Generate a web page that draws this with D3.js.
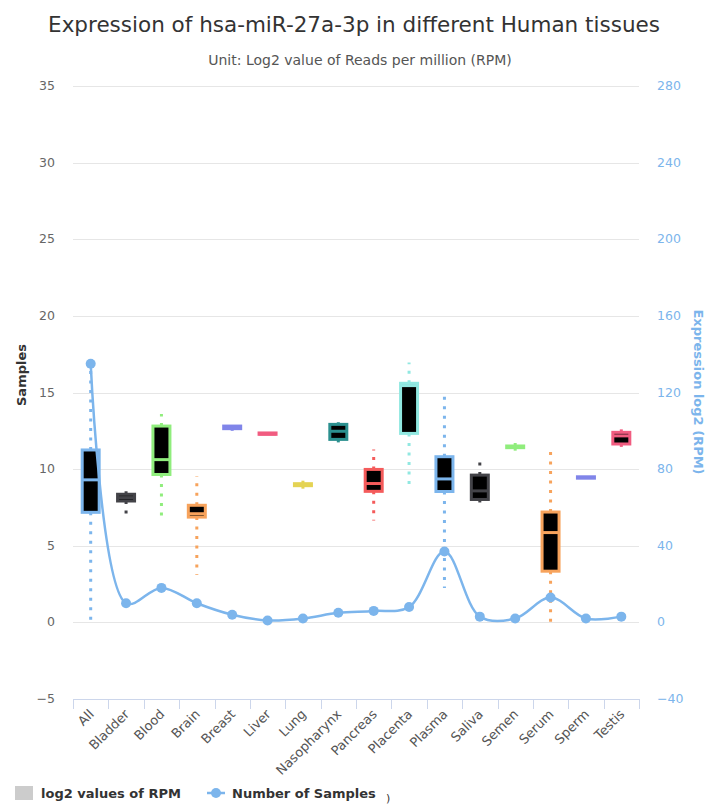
<!DOCTYPE html>
<html>
<head>
<meta charset="utf-8">
<script src="https://cdn.jsdelivr.net/npm/d3@7"></script>
<style>
  body { margin: 0; background: #fff; }
  text { font-family: "DejaVu Sans", Verdana, sans-serif; }
</style>
</head>
<body>
<svg id="chart"></svg>
<script>
var width = 707;
var height = 806;

// tissues, box stats (log2 RPM) and sample counts
var tissues = ["All", "Bladder", "Blood", "Brain", "Breast", "Liver", "Lung", "Nasopharynx",
  "Pancreas", "Placenta", "Plasma", "Saliva", "Semen", "Serum", "Sperm", "Testis"];
var lowValues = [0, 7.0, 6.6, 3.1, 12.5, 12.27, 8.67, 11.6, 6.64, 8.9, 2.24, 7.47, 11.1, 0.02, 9.41, 11.45];
var q1Values = [7.18, 7.92, 9.65, 6.87, 12.64, 12.27, 8.92, 11.94, 8.55, 12.33, 8.54, 8.02, 11.4, 3.34, 9.41, 11.64];
var medianValues = [9.3, 8.14, 10.62, 7.09, 12.7, 12.3, 9.0, 12.47, 9.06, 15.45, 9.36, 8.58, 11.45, 5.86, 9.45, 12.17];
var q3Values = [11.25, 8.36, 12.81, 7.64, 12.81, 12.36, 9.05, 12.92, 9.98, 15.6, 10.81, 9.61, 11.51, 7.2, 9.5, 12.4];
var highValues = [16.8, 8.77, 13.59, 9.54, 12.81, 12.36, 9.49, 13.06, 11.28, 16.96, 15.1, 10.65, 11.89, 11.5, 9.5, 12.8];
var sampleCounts = [135, 10, 18, 10, 4, 1, 2, 5, 6, 8, 37, 3, 2, 13, 2, 3];

var leftTicks = [-5, 0, 5, 10, 15, 20, 25, 30, 35];
var rightTicks = [-40, 0, 40, 80, 120, 160, 200, 240, 280];

var palette = ["#7cb5ec", "#434348", "#90ed7d", "#f7a35c", "#8085e9", "#f15c80",
  "#e4d354", "#2b908f", "#f45b5b", "#91e8e1"];

var boxes = tissues.map((t, i) => ({
  name: t, low: lowValues[i], q1: q1Values[i], median: medianValues[i],
  q3: q3Values[i], high: highValues[i], color: palette[i % palette.length]
}));

var plotLeft = 73, plotRight = 639, plotTop = 86, plotBottom = 699;

var svg = d3.select("#chart").attr("width", width).attr("height", height);

var x = d3.scaleBand().domain(tissues).range([plotLeft, plotRight]);
var y = d3.scaleLinear().domain([-5, 35]).range([plotBottom, plotTop]);
var y2 = d3.scaleLinear().domain([-40, 280]).range([plotBottom, plotTop]);

// title
svg.append("text")
  .attr("x", 354).attr("y", 32)
  .attr("text-anchor", "middle")
  .attr("font-size", 21.5)
  .attr("fill", "#333")
  .text("Expression of hsa-miR-27a-3p in different Human tissues");

svg.append("text")
  .attr("x", 360).attr("y", 65)
  .attr("text-anchor", "middle")
  .attr("font-size", 14)
  .attr("fill", "#555")
  .text("Unit: Log2 value of Reads per million (RPM)");

// grid
svg.append("g")
  .selectAll("line")
  .data(leftTicks.slice(1))
  .enter()
  .append("line")
  .attr("x1", plotLeft).attr("x2", plotRight)
  .attr("y1", (d) => Math.round(y(d)) + 0.5)
  .attr("y2", (d) => Math.round(y(d)) + 0.5)
  .attr("stroke", "#e6e6e6");

// left axis labels
svg.append("g")
  .selectAll("text")
  .data(leftTicks)
  .enter()
  .append("text")
  .attr("x", 55)
  .attr("y", (d) => y(d) + 4)
  .attr("text-anchor", "end")
  .attr("font-size", 12.5)
  .attr("fill", "#666")
  .text((d) => d < 0 ? "\u2212" + Math.abs(d) : d);

svg.append("text")
  .attr("transform", "translate(26, 375) rotate(-90)")
  .attr("text-anchor", "middle")
  .attr("font-size", 13)
  .attr("font-weight", "bold")
  .attr("fill", "#333")
  .text("Samples");

// right axis labels
svg.append("g")
  .selectAll("text")
  .data(rightTicks)
  .enter()
  .append("text")
  .attr("x", 657)
  .attr("y", (d) => y2(d) + 4)
  .attr("font-size", 12.5)
  .attr("fill", "#7cb5ec")
  .text((d) => d < 0 ? "\u2212" + Math.abs(d) : d);

svg.append("text")
  .attr("transform", "translate(694, 392) rotate(90)")
  .attr("text-anchor", "middle")
  .attr("font-size", 13)
  .attr("font-weight", "bold")
  .attr("fill", "#7cb5ec")
  .text("Expression log2 (RPM)");

// x axis
var xAxis = svg.append("g")
  .attr("transform", `translate(0, ${plotBottom})`)
  .call(d3.axisBottom(x).tickSize(0).tickFormat(""));
xAxis.select(".domain").attr("stroke", "#ccd6eb").attr("d", `M${plotLeft},0.5H${plotRight}`);
xAxis.selectAll(".tk")
  .data(d3.range(tissues.length + 1))
  .enter()
  .append("line")
  .attr("x1", (d) => Math.round(plotLeft + d * x.step()) + 0.5)
  .attr("x2", (d) => Math.round(plotLeft + d * x.step()) + 0.5)
  .attr("y1", 0).attr("y2", 10)
  .attr("stroke", "#ccd6eb");

svg.append("g")
  .selectAll("text")
  .data(tissues)
  .enter()
  .append("text")
  .attr("transform", (d) => `translate(${x(d) + x.bandwidth() / 2 + 4}, ${plotBottom + 16}) rotate(-45)`)
  .attr("text-anchor", "end")
  .attr("font-size", 13)
  .attr("fill", "#555")
  .text((d) => d);

// box plots
var boxW = 17;
var bx = svg.append("g")
  .selectAll(".box")
  .data(boxes)
  .enter()
  .append("g")
  .attr("transform", (d) => `translate(${x(d.name) + x.bandwidth() / 2}, 0)`);

bx.append("line")
  .attr("y1", (d) => y(d.q3)).attr("y2", (d) => y(d.high))
  .attr("stroke", (d) => d.color)
  .attr("stroke-width", 3)
  .attr("stroke-dasharray", "3,6.5");

bx.append("line")
  .attr("y1", (d) => y(d.q1)).attr("y2", (d) => y(d.low))
  .attr("stroke", (d) => d.color)
  .attr("stroke-width", 3)
  .attr("stroke-dasharray", "3,6.5");

bx.append("rect")
  .attr("x", -boxW / 2)
  .attr("width", boxW)
  .attr("y", (d) => y(d.q3))
  .attr("height", (d) => y(d.q1) - y(d.q3))
  .attr("fill", "#000")
  .attr("stroke", (d) => d.color)
  .attr("stroke-width", 3);

bx.append("line")
  .attr("x1", -boxW / 2).attr("x2", boxW / 2)
  .attr("y1", (d) => y(d.median)).attr("y2", (d) => y(d.median))
  .attr("stroke", (d) => d.color)
  .attr("stroke-width", 3);

// number of samples line
var line = d3.line()
  .x((d, i) => x(tissues[i]) + x.bandwidth() / 2)
  .y((d) => y2(d))
  .curve(d3.curveCatmullRom.alpha(0.5));

svg.append("path")
  .datum(sampleCounts)
  .attr("d", line)
  .attr("fill", "none")
  .attr("stroke", "#7cb5ec")
  .attr("stroke-width", 2.5);

svg.append("g")
  .selectAll("circle")
  .data(sampleCounts)
  .enter()
  .append("circle")
  .attr("cx", (d, i) => x(tissues[i]) + x.bandwidth() / 2)
  .attr("cy", (d) => y2(d))
  .attr("r", 5)
  .attr("fill", "#7cb5ec");

// legend
var lg = svg.append("g").attr("transform", "translate(0, 793)");
lg.append("rect").attr("x", 15).attr("y", -7).attr("width", 18).attr("height", 14).attr("fill", "#ccc");
lg.append("text").attr("x", 41).attr("y", 5).attr("font-size", 13).attr("font-weight", "bold").attr("fill", "#333")
  .text("log2 values of RPM");
lg.append("line").attr("x1", 207).attr("x2", 225).attr("y1", 0).attr("y2", 0)
  .attr("stroke", "#7cb5ec").attr("stroke-width", 2.5);
lg.append("circle").attr("cx", 216).attr("cy", 0).attr("r", 5).attr("fill", "#7cb5ec");
lg.append("text").attr("x", 232).attr("y", 5).attr("font-size", 13).attr("font-weight", "bold").attr("fill", "#333")
  .text("Number of Samples");
lg.append("text").attr("x", 386).attr("y", 9).attr("font-size", 11).attr("fill", "#333").text(")");
</script>
</body>
</html>
